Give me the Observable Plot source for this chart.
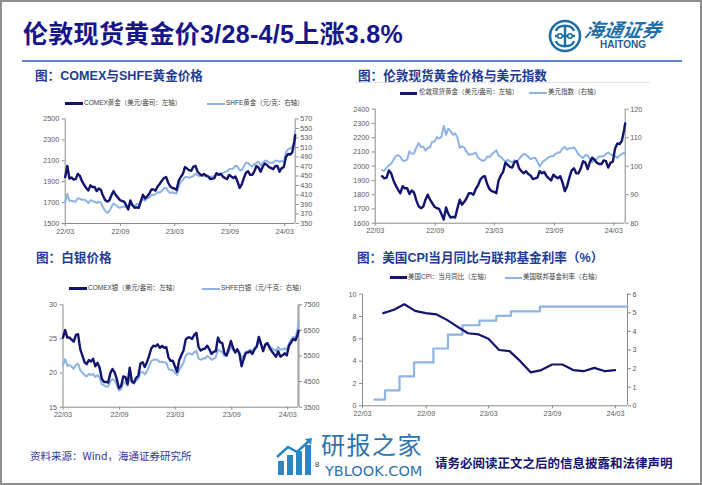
<!DOCTYPE html>
<html><head><meta charset="utf-8">
<script src="https://cdn.jsdelivr.net/npm/d3@7"></script>
<script src="https://cdn.jsdelivr.net/npm/@observablehq/plot@0.6"></script>
<style>
html,body{margin:0;padding:0;background:#fff;}
#page{position:relative;width:702px;height:485px;overflow:hidden;box-sizing:border-box;border:2px solid #8f8f8f;background:#fff;
 font-family:"Liberation Sans",Arial,"Noto Sans CJK SC",sans-serif;}
.abs{position:absolute;white-space:nowrap;}
.ptitle{font-size:12.6px;font-weight:bold;color:#1f3c96;font-family:"Liberation Sans","Noto Sans CJK SC",sans-serif;line-height:1;}
.leg{font-size:6.5px;color:#404040;line-height:1;font-family:"Liberation Sans","Noto Sans CJK SC",sans-serif;}
.sw{position:absolute;height:0;}
</style></head>
<body><div id="page"></div>
<script>
// ---------------- data ----------------
const weekStart = "2022-03-01";   // weekly observations (Tuesdays) ...
const weekCount = 110;            // ... through 2024-04-02
const lastDate = "2024-04-05";    // final observation
const tickLabels = ["22/03", "22/09", "23/03", "23/09", "24/03"];

// COMEX gold, USD/oz (left axis, chart 1)
const comexGold = [
 1945,2050,1930,1940,1920, 1925,1975,1955,1905, 1870,1840,1815,1865,1850, 1850,1810,1835,1820,
 1765,1725,1710,1720, 1770,1810,1775,1750,1725, 1715,1710,1675,1635, 1720,1675,1650,1655,
 1650,1715,1775,1740,1760, 1785,1825,1825,1815,
 1855,1880,1910,1935,1945, 1890,1855,1840,1835, 1820,1910,1945,1975, 2040,2025,2010,2005,
 2045,2050,1995,1975,1960, 1975,1960,1950,1925, 1930,1935,1980,1965, 1975,1950,1935,1925,1965,
 1950,1935,1950,1900, 1840,1875,1935,1985,2000, 1965,1965,2000,2050, 2035,1995,2045,2075,
 2060,2040,2030,2020,2050, 2050,1995,2030,2040, 2135,2165,2160,2180, 2280,2345];
// SHFE gold, CNY/g (right axis, chart 1)
const shfeGold = [
 395,412,398,398,397, 396,403,402,400, 400,398,393,399,397, 396,393,396,394,
 384,377,372,376, 385,392,389,385,383, 385,386,384,383, 392,389,386,391,
 390,398,401,398,403, 404,410,410,412,
 416,415,419,424,425, 418,414,416,414, 413,428,438,441, 448,448,446,448,
 450,455,451,450,452, 450,449,449,448, 449,450,457,455, 455,456,458,460,464,
 465,466,472,470, 462,462,470,478,478, 472,470,474,478, 480,472,478,482,
 482,478,478,478,482, 482,480,482,480, 500,506,508,510, 525,543];
// London spot gold, USD/oz (left axis, chart 2)
const londonGold = [
 null,null,null,1930,1915, 1920,1970,1950,1900, 1865,1835,1810,1860,1845, 1845,1805,1830,1815,
 1760,1720,1705,1715, 1765,1800,1765,1740,1715, 1705,1700,1665,1625, 1710,1665,1640,1645,
 1640,1705,1765,1730,1750, 1775,1810,1810,1800,
 1840,1865,1905,1925,1930, 1875,1840,1825,1820, 1810,1900,1935,1960, 2025,2010,1995,1990,
 2030,2035,1985,1965,1950, 1965,1945,1935,1910, 1915,1920,1965,1950, 1960,1930,1915,1900,1940,
 1925,1915,1930,1885, 1825,1860,1920,1970,1985, 1950,1950,1985,2035, 2025,1980,2030,2060,
 2045,2025,2015,2015,2040, 2035,1990,2025,2030, 2125,2160,2155,2180, 2260,2300];
// US dollar index (right axis, chart 2)
const dollarIndex = [
 null,null,null,98.6,98.4, 99.5,100.3,100.9,102.3, 103.5,103.9,103.3,102.0,101.8, 102.4,105.2,104.4,104.5,
 106.5,108.1,106.7,106.9, 105.5,106.4,106.6,108.6,108.7, 110.2,109.7,110.3,114.1, 111.0,113.2,112.3,111.0,
 111.5,110.0,106.4,107.0,106.5, 105.1,104.0,104.2,104.3,
 104.8,103.0,102.4,101.9,102.1, 103.4,103.2,104.1,104.9, 105.6,103.6,103.3,102.4, 101.6,102.2,101.7,101.3,
 102.1,101.6,102.6,103.5,104.3, 104.0,103.3,102.5,102.8, 103.0,101.6,99.9,101.2, 102.0,102.5,103.2,103.5,103.6,
 104.4,104.7,105.0,106.2, 106.8,105.8,106.3,106.3,106.6, 105.5,104.1,103.4,102.9, 103.9,103.8,102.4,101.4,
 102.3,102.5,103.4,103.5,103.5, 104.3,104.8,104.2,103.8, 103.6,102.9,103.8,104.3, 104.8,104.3];
// COMEX silver, USD/oz (left axis, chart 3)
const comexSilver = [
 25.2,26.3,25.2,25.2,24.9, 24.6,25.6,25.7,23.5, 22.6,21.6,21.3,21.9,21.7, 22.1,21.0,21.5,20.8,
 19.2,18.7,18.7,18.6, 20.0,20.6,20.1,19.1,17.8, 18.1,19.5,19.4,18.4, 20.8,18.8,18.6,19.3,
 19.6,21.4,21.6,20.9,21.6, 22.5,23.6,24.0,23.9,
 24.2,23.7,24.0,23.7,23.8, 22.3,21.8,21.8,21.0, 20.2,21.9,22.6,23.3, 24.9,25.2,25.2,25.0,
 25.6,25.9,23.8,23.3,23.5, 23.6,24.0,23.5,22.8, 23.1,23.2,25.2,24.5, 24.4,22.9,22.6,23.6,24.7,
 23.7,23.0,23.5,22.8, 21.0,22.1,23.0,23.0,23.2, 22.8,23.5,23.9,25.3, 24.3,23.2,24.2,24.4,
 23.7,23.2,22.8,22.4,23.2, 22.4,22.6,22.9,22.6, 24.0,24.5,25.0,24.8, 25.6,26.2];
// SHFE silver, CNY/kg (right axis, chart 3)
const shfeSilver = [
 5150,5380,5120,5150,5080, 5000,5150,5200,4950, 4850,4750,4700,4800,4750, 4800,4680,4750,4650,
 4400,4350,4300,4320, 4500,4600,4550,4350,4150, 4200,4450,4480,4320, 4700,4450,4420,4550,
 4600,4850,4880,4780,4900, 5100,5300,5350,5350,
 5350,5250,5280,5250,5250, 5000,4950,4950,4850, 4750,4950,5100,5250, 5500,5600,5600,5550,
 5650,5700,5400,5350,5400, 5400,5500,5450,5350, 5400,5450,5750,5700, 5650,5500,5500,5650,5850,
 5750,5650,5750,5650, 5400,5550,5650,5700,5750, 5700,5800,5850,6050, 5950,5750,5900,5950,
 5900,5800,5750,5700,5850, 5750,5750,5800,5750, 6000,6150,6250,6200, 6550,6850];
// US CPI YoY (%), monthly 2022-04 .. 2024-02 (left axis, chart 4)
const cpiFirstMonth = "2022-04";
const cpiYoY = [8.3,8.6,9.1,8.5,8.3,8.2,7.7,7.1,6.5, 6.4,6.0,5.0,4.9,4.0,3.0,3.2,3.7,3.7,3.2,3.1,3.4, 3.1,3.2];
// Effective fed funds rate (%), level from each date on (right axis, chart 4)
const ffrDates = ["2022-04-05","2022-05-05","2022-06-16","2022-07-28","2022-09-22","2022-11-03","2022-12-15","2023-02-02","2023-03-23","2023-05-04","2023-07-27","2024-04-05"];
const ffrRate  = [0.33,0.83,1.58,2.33,3.08,3.83,4.33,4.58,4.83,5.08,5.33,5.33];

// texts
const mainTitle = "伦敦现货黄金价3/28-4/5上涨3.8%";
const panelTitles = ["图：COMEX与SHFE黄金价格","图：伦敦现货黄金价格与美元指数","图：白银价格","图：美国CPI当月同比与联邦基金利率（%）"];
const legendLabels = [
 ["COMEX黄金（美元/盎司：左轴）","SHFE黄金（元/克：右轴）"],
 ["伦敦现货黄金（美元/盎司：左轴）","美元指数（右轴）"],
 ["COMEX银（美元/盎司：左轴）","SHFE白银（元/千克：右轴）"],
 ["美国CPI：当月同比（左轴）","美国联邦基金利率（右轴）"]];
const sourceText = "资料来源：Wind，海通证券研究所";
const disclaimer = "请务必阅读正文之后的信息披露和法律声明";

// ---------------- build ----------------
const page = document.getElementById("page");
const DARK = "#12146e", LIGHT = "#8db4e2", AXIS = "#8c8c8c", LABEL = "#595959";
const weekDates = d3.range(weekCount).map(i => d3.utcDay.offset(new Date(weekStart + "T00:00Z"), 7 * i))
  .concat([new Date(lastDate + "T00:00Z")]);
const rows = arr => arr.map((v, i) => ({date: weekDates[i], v})).filter(d => d.v != null);
const tickDates = tickLabels.map(s => new Date(Date.UTC(2000 + +s.slice(0, 2), +s.slice(3) - 1, 1)));
const xDomain = [new Date(weekStart + "T00:00Z"), new Date(lastDate + "T00:00Z")];

function el(tag, cls, style, text) {
  const e = document.createElement(tag);
  if (cls) e.className = cls;
  if (style) e.setAttribute("style", style);
  if (text != null) e.textContent = text;
  page.appendChild(e);
  return e;
}

function dualChart(o) {
  const k = (o.leftDomain[1] - o.leftDomain[0]) / (o.rightDomain[1] - o.rightDomain[0]);
  const toL = v => o.leftDomain[0] + (v - o.rightDomain[0]) * k;
  const fromL = v => o.rightDomain[0] + (v - o.leftDomain[0]) / k;
  const marks = [
    Plot.ruleX([xDomain[0]], {stroke: AXIS, strokeWidth: 1}),
    Plot.ruleX([xDomain[1]], {stroke: o.rightAxisColor || AXIS, strokeWidth: o.rightAxisWidth || 1}),
    Plot.ruleY([o.leftDomain[0]], {stroke: AXIS, strokeWidth: 1}),
    Plot.axisY(o.leftTicks, {anchor: "left", tickSize: 3, tickPadding: 3, label: null, stroke: AXIS, fill: LABEL,
      tickFormat: d => String(d)}),
    Plot.axisY(o.rightTicks.map(toL), {anchor: "right", tickSize: 3, tickPadding: 2, label: null, stroke: AXIS, fill: LABEL,
      tickFormat: d => String(Math.round(fromL(d)))}),
    Plot.axisX(tickDates, {anchor: "bottom", tickSize: 3, tickPadding: 2, label: null, stroke: AXIS, fill: LABEL,
      tickFormat: d3.utcFormat("%y/%m")}),
    Plot.line(o.rightSeries, {x: "date", y: d => toL(d.v), stroke: LIGHT, strokeWidth: o.lightW || 2, curve: o.rightCurve || "linear"}),
    Plot.line(o.leftSeries, {x: "date", y: "v", stroke: DARK, strokeWidth: o.darkW || 2.4})
  ];
  const svg = Plot.plot({
    width: o.width, height: o.height,
    marginLeft: o.mL, marginRight: o.mR, marginTop: o.mT, marginBottom: o.mB,
    x: {type: "utc", domain: xDomain, axis: null},
    y: {domain: o.leftDomain, axis: null},
    style: {fontFamily: "Liberation Sans, Arial, sans-serif", fontSize: "7.2px", color: LABEL, background: "transparent", overflow: "visible"},
    marks
  });
  svg.style.position = "absolute";
  svg.style.left = o.left + "px";
  svg.style.top = o.top + "px";
  page.appendChild(svg);
}

function legend(y, items) {
  items.forEach(it => {
    el("div", "sw", `left:${it.x1}px;top:${y - it.w / 2}px;width:${it.x2 - it.x1}px;border-top:${it.w}px solid ${it.c};`);
    el("div", "abs leg", `left:${it.tx}px;top:${y - 3.6}px;`, it.text);
  });
}

// header
el("div", "abs", "left:21px;top:18px;font-size:25px;font-weight:bold;color:#16168a;letter-spacing:0.3px;font-family:'Liberation Sans','Noto Sans CJK SC',sans-serif;line-height:1.15;", mainTitle);
const logo = document.createElementNS("http://www.w3.org/2000/svg", "svg");
logo.setAttribute("width", "36"); logo.setAttribute("height", "36");
logo.setAttribute("style", "position:absolute;left:545px;top:16px;");
logo.innerHTML = '<circle cx="18" cy="18" r="15" fill="none" stroke="#1f6fa6" stroke-width="2.6"/>' +
  '<path d="M9 13 C11 6,25 6,27 13 M9 23 C11 30,25 30,27 23" fill="none" stroke="#1f6fa6" stroke-width="2.4"/>' +
  '<path d="M8 18 H28 M18 9 V27" fill="none" stroke="#1f6fa6" stroke-width="2.4"/>' +
  '<circle cx="13" cy="18" r="2.3" fill="#fff" stroke="#1f6fa6" stroke-width="1.6"/><circle cx="23" cy="18" r="2.3" fill="#fff" stroke="#1f6fa6" stroke-width="1.6"/>';
page.appendChild(logo);
el("div", "abs", "left:583px;top:17px;font-size:19px;font-weight:bold;font-style:italic;color:#1f6fa6;font-family:'Noto Sans CJK SC',sans-serif;line-height:1.1;transform:skewX(-12deg);", "海通证券");
el("div", "abs", "left:598px;top:38px;font-size:10px;font-weight:bold;color:#1f5f92;font-family:'Liberation Sans',Arial,sans-serif;line-height:1;", "HAITONG");
el("div", "abs", "left:20px;top:58px;width:660px;height:0;border-top:2px solid #5b86c8;");
el("div", "abs", "left:352px;top:80px;width:296px;height:0;border-top:1px solid #e4e4e4;");

// panel titles
el("div", "abs ptitle", "left:33px;top:68px;", panelTitles[0]);
el("div", "abs ptitle", "left:356px;top:68px;", panelTitles[1]);
el("div", "abs ptitle", "left:34px;top:250px;", panelTitles[2]);
el("div", "abs ptitle", "left:355px;top:250px;", panelTitles[3]);

// legends
legend(101.5, [
  {x1: 63, x2: 81, w: 3, c: DARK, tx: 82, text: legendLabels[0][0]},
  {x1: 205, x2: 223, w: 2, c: LIGHT, tx: 224, text: legendLabels[0][1]}]);
legend(91, [
  {x1: 398, x2: 415, w: 3, c: DARK, tx: 417, text: legendLabels[1][0]},
  {x1: 527, x2: 545, w: 2, c: LIGHT, tx: 546, text: legendLabels[1][1]}]);
legend(286.5, [
  {x1: 67, x2: 85, w: 3, c: DARK, tx: 86, text: legendLabels[2][0]},
  {x1: 200, x2: 218, w: 2, c: LIGHT, tx: 219, text: legendLabels[2][1]}]);
legend(275.5, [
  {x1: 388, x2: 405, w: 3, c: DARK, tx: 406, text: legendLabels[3][0]},
  {x1: 503, x2: 520, w: 2, c: LIGHT, tx: 521, text: legendLabels[3][1]}]);

// chart 1: COMEX & SHFE gold
dualChart({left: 20, top: 106, width: 310, height: 130, mL: 42.7, mR: 37.3, mT: 10.5, mB: 15,
  leftDomain: [1500, 2500], rightDomain: [350, 570],
  leftTicks: d3.range(1500, 2501, 200), rightTicks: d3.range(350, 571, 20),
  leftSeries: rows(comexGold), rightSeries: rows(shfeGold)});

// chart 2: London gold & dollar index
dualChart({left: 345, top: 96, width: 357, height: 140, mL: 27.7, mR: 79.3, mT: 10.7, mB: 15.3,
  leftDomain: [1600, 2400], rightDomain: [80, 120],
  leftTicks: d3.range(1600, 2401, 100), rightTicks: d3.range(80, 121, 10),
  leftSeries: rows(londonGold), rightSeries: rows(dollarIndex)});

// chart 3: silver
dualChart({left: 20, top: 292, width: 315, height: 128, mL: 40.5, mR: 39, mT: 10.3, mB: 15.3,
  leftDomain: [15, 30], rightDomain: [3500, 7500],
  leftTicks: d3.range(15, 31, 5), rightTicks: d3.range(3500, 7501, 1000),
  leftSeries: rows(comexSilver), rightSeries: rows(shfeSilver),
  rightAxisWidth: 2.2, rightAxisColor: "#a6a6a6"});

// chart 4: CPI & fed funds
const cpiStart = new Date(cpiFirstMonth + "-01T00:00Z");
const cpiRows = cpiYoY.map((v, i) => ({date: d3.utcDay.offset(d3.utcMonth.offset(cpiStart, i + 1), -1), v}));
const ffrRows = ffrDates.map((s, i) => ({date: new Date(s + "T00:00Z"), v: ffrRate[i]}));
dualChart({left: 340, top: 281, width: 362, height: 139, mL: 20, mR: 77, mT: 10.7, mB: 16.7,
  leftDomain: [0, 10], rightDomain: [0, 6],
  leftTicks: d3.range(0, 11, 2), rightTicks: d3.range(0, 7, 1),
  leftSeries: cpiRows, rightSeries: ffrRows, rightCurve: "step-after", darkW: 2.2, lightW: 2.2});

// footer
el("div", "abs", "left:28px;top:448px;font-size:10.5px;color:#35349a;font-family:'Noto Sans CJK SC',sans-serif;line-height:1.2;", sourceText);
const wm = document.createElementNS("http://www.w3.org/2000/svg", "svg");
wm.setAttribute("width", "40"); wm.setAttribute("height", "40");
wm.setAttribute("style", "position:absolute;left:273px;top:435px;");
wm.innerHTML = '<rect x="3" y="24" width="6" height="14" fill="#2b86c5"/><rect x="12" y="18" width="6" height="20" fill="#2b86c5"/>' +
  '<rect x="21" y="14" width="6" height="24" fill="#2b86c5"/><rect x="30" y="8" width="6" height="30" fill="#2b86c5"/>' +
  '<path d="M2 20 L13 10 L22 15 L35 3" fill="none" stroke="#2b86c5" stroke-width="2.5"/><path d="M30 2 L37 1 L36 8 Z" fill="#2b86c5"/>';
page.appendChild(wm);
el("div", "abs", "left:319px;top:430px;font-size:24px;color:#3173ab;font-family:'Noto Sans CJK SC',sans-serif;line-height:1;letter-spacing:1.5px;", "研报之家");
el("div", "abs", "left:323px;top:462px;font-size:14.5px;color:#3173ab;font-family:'DejaVu Sans','Noto Sans',sans-serif;line-height:1;", "YBLOOK.COM");
el("div", "abs", "left:313px;top:459px;font-size:8px;color:#444;font-family:'Liberation Sans',Arial,sans-serif;line-height:1;", "8");
el("div", "abs", "left:433px;top:453px;font-size:12.5px;font-weight:bold;color:#14146e;font-family:'Noto Sans CJK SC',sans-serif;line-height:1.2;", disclaimer);
</script>
</body></html>
